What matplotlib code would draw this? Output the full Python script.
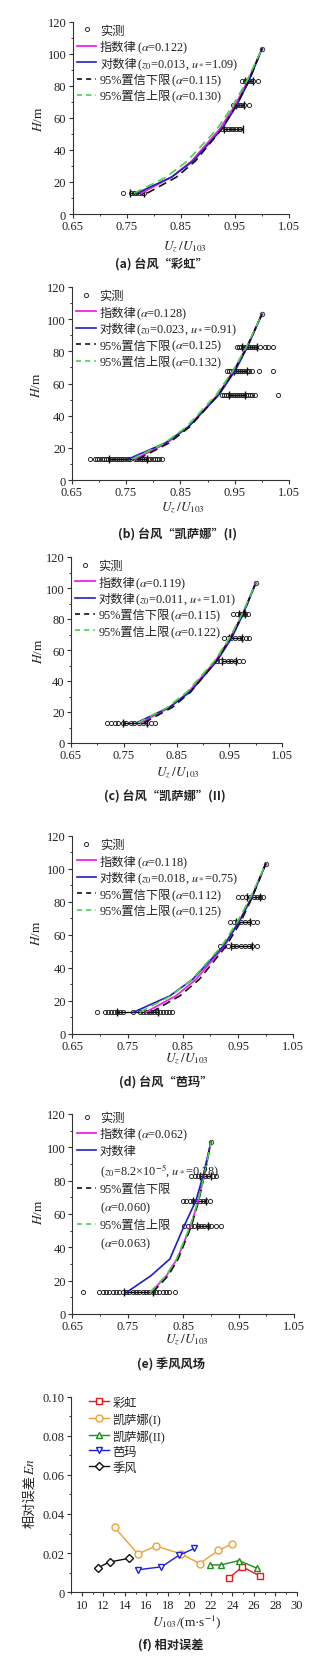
import numpy as np
import matplotlib
matplotlib.use("Agg")
import matplotlib.pyplot as plt
from matplotlib.lines import Line2D
from matplotlib.ticker import MultipleLocator, FuncFormatter

plt.rcParams['font.family'] = ['Liberation Serif', 'Noto Sans CJK SC']
plt.rcParams['mathtext.fontset'] = 'stix'
plt.rcParams['axes.unicode_minus'] = False
plt.rcParams['text.color'] = '#222222'

# ── data ──────────────────────────────────────────────────────────────────────
fit_h = [13, 23, 33, 53, 68, 83, 103]        # heights of fitted profiles (m)
obs_h = [13, 53, 68, 83]                     # measured levels (m)
top_h = 103
u_ticks = [0.65, 0.75, 0.85, 0.95, 1.05]

# (a) typhoon Rainbow
a_pow = [0.777, 0.833, 0.870, 0.922, 0.951, 0.974, 1.0]
a_log = [0.769, 0.833, 0.873, 0.926, 0.954, 0.976, 1.0]
a_low = [0.788, 0.842, 0.877, 0.926, 0.953, 0.976, 1.0]
a_up = [0.764, 0.823, 0.862, 0.917, 0.947, 0.972, 1.0]
a_obs = [[0.744, 0.758, 0.763, 0.768, 0.773, 0.778, 0.782],
         [0.926, 0.932, 0.937, 0.942, 0.947, 0.952, 0.957, 0.960],
         [0.947, 0.952, 0.957, 0.962, 0.967, 0.977],
         [0.964, 0.969, 0.974, 0.979, 0.984, 0.993]]
a_bar_lo = [0.756, 0.929, 0.952, 0.969]
a_bar_hi = [0.782, 0.965, 0.967, 0.984]
a_top = 1.0

# (b) typhoon Kaisana (I)
b_pow = [0.767, 0.825, 0.864, 0.919, 0.948, 0.973, 1.0]
b_log = [0.754, 0.822, 0.865, 0.921, 0.951, 0.974, 1.0]
b_low = [0.772, 0.829, 0.867, 0.920, 0.949, 0.973, 1.0]
b_up = [0.761, 0.821, 0.861, 0.916, 0.947, 0.972, 1.0]
b_obs = [[0.684, 0.693, 0.697, 0.701, 0.705, 0.709, 0.713, 0.717, 0.721, 0.725,
          0.729, 0.733, 0.737, 0.741, 0.745, 0.749, 0.753, 0.757, 0.767, 0.771,
          0.775, 0.779, 0.783, 0.787, 0.791, 0.795, 0.799, 0.803, 0.807, 0.811, 0.816],
         [0.926, 0.930, 0.934, 0.938, 0.942, 0.946, 0.950, 0.954, 0.958, 0.962,
          0.966, 0.970, 0.974, 0.978, 0.982, 0.988, 1.029],
         [0.936, 0.940, 0.944, 0.948, 0.952, 0.956, 0.960, 0.964, 0.968, 0.972,
          0.976, 0.982, 0.994, 1.021],
         [0.954, 0.958, 0.962, 0.966, 0.970, 0.974, 0.978, 0.982, 0.986, 0.990,
          0.997, 1.006, 1.012, 1.021]]
b_bar_lo = [0.719, 0.940, 0.948, 0.963]
b_bar_hi = [0.789, 0.969, 0.972, 0.991]
b_top = 1.0

# (c) typhoon Kaisana (II)
c_pow = [0.782, 0.837, 0.873, 0.924, 0.952, 0.975, 1.0]
c_log = [0.774, 0.836, 0.876, 0.927, 0.955, 0.976, 1.0]
c_low = [0.788, 0.842, 0.877, 0.926, 0.953, 0.976, 1.0]
c_up = [0.777, 0.833, 0.870, 0.922, 0.951, 0.974, 1.0]
c_obs = [[0.718, 0.725, 0.733, 0.740, 0.748, 0.755, 0.763, 0.770, 0.778, 0.786,
          0.794, 0.801, 0.809],
         [0.926, 0.933, 0.940, 0.947, 0.954, 0.961, 0.968, 0.977],
         [0.940, 0.947, 0.954, 0.961, 0.968, 0.975, 0.982, 0.988],
         [0.958, 0.964, 0.970, 0.975, 0.980, 0.986]]
c_bar_lo = [0.749, 0.937, 0.950, 0.969]
c_bar_hi = [0.794, 0.963, 0.975, 0.980]
c_top = 1.0

# (d) typhoon Parma
d_pow = [0.783, 0.838, 0.874, 0.925, 0.952, 0.975, 1.0]
d_log = [0.761, 0.827, 0.868, 0.923, 0.952, 0.975, 1.0]
d_low = [0.793, 0.845, 0.880, 0.928, 0.955, 0.976, 1.0]
d_up = [0.772, 0.829, 0.867, 0.920, 0.949, 0.973, 1.0]
d_obs = [[0.694, 0.709, 0.714, 0.720, 0.725, 0.731, 0.736, 0.742, 0.760, 0.773,
          0.778, 0.783, 0.788, 0.793, 0.798, 0.804, 0.809, 0.814, 0.819, 0.825, 0.830],
         [0.917, 0.925, 0.932, 0.940, 0.947, 0.955, 0.962, 0.969, 0.976, 0.984],
         [0.935, 0.942, 0.949, 0.956, 0.963, 0.970, 0.977, 0.984],
         [0.950, 0.957, 0.964, 0.971, 0.978, 0.985, 0.990, 0.996]]
d_bar_lo = [0.730, 0.938, 0.947, 0.966]
d_bar_hi = [0.806, 0.975, 0.972, 0.990]
d_top = 1.0

# (e) monsoon
e_pow = [0.792, 0.820, 0.839, 0.864, 0.877, 0.888, 0.90]
e_log = [0.748, 0.792, 0.826, 0.852, 0.873, 0.886, 0.90]
e_low = [0.795, 0.823, 0.841, 0.865, 0.878, 0.888, 0.90]
e_up = [0.790, 0.819, 0.838, 0.863, 0.877, 0.888, 0.90]
e_obs = [[0.669, 0.699, 0.705, 0.711, 0.717, 0.723, 0.729, 0.735, 0.741, 0.747,
          0.753, 0.759, 0.765, 0.771, 0.777, 0.783, 0.789, 0.795, 0.801, 0.807,
          0.813, 0.819, 0.825, 0.835],
         [0.852, 0.858, 0.864, 0.870, 0.876, 0.882, 0.888, 0.894, 0.900, 0.909, 0.918],
         [0.850, 0.856, 0.862, 0.868, 0.874, 0.880, 0.886, 0.892, 0.898],
         [0.865, 0.871, 0.877, 0.883, 0.889, 0.895, 0.903, 0.910]]
e_bar_lo = [0.743, 0.875, 0.868, 0.880]
e_bar_hi = [0.795, 0.895, 0.892, 0.901]
e_top = 0.90

# (f) relative error
rain_u = [23.66, 24.93, 26.6]
rain_en = [0.0072, 0.0130, 0.0082]
k1_u = [13.05, 15.2, 16.9, 19.2, 20.95, 22.7, 23.95]
k1_en = [0.0332, 0.0196, 0.0236, 0.0197, 0.0147, 0.0214, 0.0247]
k2_u = [21.9, 22.95, 24.6, 26.25]
k2_en = [0.0140, 0.0140, 0.0162, 0.0124]
pa_u = [15.2, 17.4, 19.0, 20.45]
pa_en = [0.0115, 0.0130, 0.0188, 0.0224]
mon_u = [11.5, 12.6, 14.35]
mon_en = [0.0126, 0.0155, 0.0173]

# ── layout helpers (pixel coords, origin top-left) ────────────────────────────
W, H = 328, 1665
C_POW = '#f020f0'
C_LOG = '#2020c0'
C_LOW = '#111111'
C_UP = '#44d444'
SPINE = '#333333'
LEG_FS = 8.8

pending = []   # (legend text, math suffix) placed once the layout is known


def rect(x0, x1, y0, y1):
    return [x0 / W, 1 - y1 / H, (x1 - x0) / W, (y1 - y0) / H]


def ftext(x, y, s, **kw):
    return fig.text(x / W, 1 - y / H, s, ha='center', va='center', **kw)


def style_axes(ax):
    for side in ('top', 'right'):
        ax.spines[side].set_visible(False)
    for side in ('left', 'bottom'):
        ax.spines[side].set_color(SPINE)
        ax.spines[side].set_linewidth(0.8)
    ax.tick_params(which='major', direction='out', length=3, width=0.8,
                   labelsize=9, pad=1.5, color=SPINE, labelcolor='#222222')
    ax.tick_params(which='minor', direction='out', length=1.6, width=0.7, color=SPINE)


def profile_panel(box, obs, bar_lo, bar_hi, top, pw, lg, lo, up, names, suffixes,
                  split=False, leg_top=0.983):
    ax = fig.add_axes(rect(*box))
    style_axes(ax)
    for h, xs in zip(obs_h, obs):
        ax.plot(xs, np.full(len(xs), h), 'o', ms=3, mfc='none', mec='#222222',
                mew=0.65, zorder=2)
    lo_arr = np.array(bar_lo)
    hi_arr = np.array(bar_hi)
    ax.errorbar((lo_arr + hi_arr) / 2, obs_h, xerr=(hi_arr - lo_arr) / 2, fmt='none',
                ecolor='#111111', elinewidth=1.0, capsize=2.6, capthick=1.0, zorder=2.5)
    ax.plot(top, top_h, 'o', ms=3.2, mfc='#b8d8b0', mec='#444444', mew=0.7, zorder=2)

    ax.plot(pw, fit_h, color=C_POW, lw=1.3, zorder=3)
    ax.plot(lg, fit_h, color=C_LOG, lw=1.2, zorder=3.1)
    ax.plot(lo, fit_h, color=C_LOW, lw=1.2, ls=(0, (5, 3)), zorder=3.2)
    ax.plot(up, fit_h, color=C_UP, lw=1.2, ls=(0, (5, 3)), zorder=3.3)

    ax.set_xlim(0.65, 1.05)
    ax.set_ylim(0, 120)
    ax.set_xticks(u_ticks)
    ax.xaxis.set_minor_locator(MultipleLocator(0.05))
    ax.xaxis.set_major_formatter(FuncFormatter(lambda v, p: f'{v:.2f}'))
    ax.yaxis.set_major_locator(MultipleLocator(20))
    ax.yaxis.set_minor_locator(MultipleLocator(10))

    h_obs = Line2D([], [], ls='none', marker='o', ms=3, mfc='none', mec='#222222', mew=0.65)
    h_pow = Line2D([], [], color=C_POW, lw=1.3)
    h_log = Line2D([], [], color=C_LOG, lw=1.2)
    h_low = Line2D([], [], color=C_LOW, lw=1.2, ls=(0, (3, 2.5)))
    h_up = Line2D([], [], color=C_UP, lw=1.2, ls=(0, (3, 2.5)))
    blank = Line2D([], [], ls='none')
    if split:
        handles = [h_obs, h_pow, h_log, blank, h_low, blank, h_up, blank]
    else:
        handles = [h_obs, h_pow, h_log, h_low, h_up]
    leg = ax.legend(handles, names, loc='upper left', bbox_to_anchor=(0.02, leg_top),
                    frameon=False, fontsize=LEG_FS, handlelength=1.6, handletextpad=0.3,
                    labelspacing=0.36, borderpad=0, borderaxespad=0)
    for t, suf in zip(leg.get_texts(), suffixes):
        if suf:
            pending.append((t, suf))
    return ax


fig = plt.figure(figsize=(W / 100, H / 100), dpi=100)

xlab = r'$U_z\,/U_{103}$'
ylab = r'$H$/m'
cap_kw = dict(fontsize=8.8, family=['Noto Sans CJK SC'], fontweight='bold')
names4 = ['实测', '指数律', '对数律', '95%置信下限', '95%置信上限']

# ── (a) ───────────────────────────────────────────────────────────────────────
profile_panel((72.5, 289, 22.5, 215), a_obs, a_bar_lo, a_bar_hi, a_top,
              a_pow, a_log, a_low, a_up, names4,
              ['', r'($\alpha$=0.122)', r'($z_0$=0.013, $u_*$=1.09)',
               r'($\alpha$=0.115)', r'($\alpha$=0.130)'])
ftext(185, 247, xlab, fontsize=9.5)
ftext(38, 119, ylab, fontsize=9.5, rotation=90)
ftext(161, 265, '(a) 台风“彩虹”', **cap_kw)

# ── (b) ───────────────────────────────────────────────────────────────────────
profile_panel((71.7, 289, 288, 481), b_obs, b_bar_lo, b_bar_hi, b_top,
              b_pow, b_log, b_low, b_up, names4,
              ['', r'($\alpha$=0.128)', r'($z_0$=0.023, $u_*$=0.91)',
               r'($\alpha$=0.125)', r'($\alpha$=0.132)'])
ftext(183, 508, xlab, fontsize=9.5)
ftext(37, 385, ylab, fontsize=9.5, rotation=90)
ftext(178, 535, '(b) 台风“凯萨娜”(I)', **cap_kw)

# ── (c) ───────────────────────────────────────────────────────────────────────
profile_panel((71, 282, 558, 744), c_obs, c_bar_lo, c_bar_hi, c_top,
              c_pow, c_log, c_low, c_up, names4,
              ['', r'($\alpha$=0.119)', r'($z_0$=0.011, $u_*$=1.01)',
               r'($\alpha$=0.115)', r'($\alpha$=0.122)'])
ftext(178, 773, xlab, fontsize=9.5)
ftext(38, 651, ylab, fontsize=9.5, rotation=90)
ftext(165, 797, '(c) 台风“凯萨娜”(II)', **cap_kw)

# ── (d) ───────────────────────────────────────────────────────────────────────
profile_panel((72.3, 293.3, 837, 1034.6), d_obs, d_bar_lo, d_bar_hi, d_top,
              d_pow, d_log, d_low, d_up, names4,
              ['', r'($\alpha$=0.118)', r'($z_0$=0.018, $u_*$=0.75)',
               r'($\alpha$=0.112)', r'($\alpha$=0.125)'])
ftext(187, 1059, xlab, fontsize=9.5)
ftext(37, 933, ylab, fontsize=9.5, rotation=90)
ftext(166, 1083, '(d) 台风“芭玛”', **cap_kw)

# ── (e) ───────────────────────────────────────────────────────────────────────
profile_panel((72.3, 294, 1115, 1315), e_obs, e_bar_lo, e_bar_hi, e_top,
              e_pow, e_log, e_low, e_up,
              ['实测', '指数律', '对数律', r'($z_0$=8.2×10$^{-5}$, $u_*$=0.28)',
               '95%置信下限', r'($\alpha$=0.060)', '95%置信上限', r'($\alpha$=0.063)'],
              ['', r'($\alpha$=0.062)', '', '', '', '', '', ''], split=True, leg_top=1.01)
ftext(187, 1340, xlab, fontsize=9.5)
ftext(38, 1212, ylab, fontsize=9.5, rotation=90)
ftext(171, 1365, '(e) 季风风场', **cap_kw)

# ── (f) relative error ────────────────────────────────────────────────────────
axf = fig.add_axes(rect(71, 297, 1397.5, 1593.3))
style_axes(axf)
mk = dict(ms=5, mfc='white', mew=1.0, lw=1.0)
axf.plot(rain_u, rain_en, '-s', color='#e41a1c', label='彩虹', **mk)
axf.plot(k1_u, k1_en, '-o', color='#f0a030', label='凯萨娜(I)', **mk)
axf.plot(k2_u, k2_en, '-^', color='#1e8c1e', label='凯萨娜(II)', **mk)
axf.plot(pa_u, pa_en, '-v', color='#2020d8', label='芭玛', **mk)
axf.plot(mon_u, mon_en, '-D', color='#111111', label='季风', ms=4.5, mfc='white', mew=1.0, lw=1.0)
axf.set_xlim(9, 30)
axf.set_ylim(0, 0.10)
axf.xaxis.set_major_locator(MultipleLocator(2))
axf.xaxis.set_minor_locator(MultipleLocator(1))
axf.yaxis.set_major_locator(MultipleLocator(0.02))
axf.yaxis.set_minor_locator(MultipleLocator(0.01))
axf.yaxis.set_major_formatter(FuncFormatter(lambda v, p: '0' if abs(v) < 1e-9 else f'{v:.2f}'))
axf.legend(loc='upper left', bbox_to_anchor=(0.08, 1.0), frameon=False, fontsize=LEG_FS,
           handlelength=1.6, handletextpad=0.3, labelspacing=0.32, borderpad=0,
           borderaxespad=0)
ftext(187, 1622, r'$U_{103}$/(m·s$^{-1}$)', fontsize=9.5)
yl = ftext(30, 1502, '相对误差', fontsize=9.5, rotation=90)
ftext(171, 1645, '(f) 相对误差', **cap_kw)

# ── attach the math parts once the text layout is fixed ───────────────────────
fig.canvas.draw()
for t, suf in pending:
    bb = t.get_window_extent()
    fig.text(bb.x1 / fig.bbox.width, (bb.y0 + bb.y1) / 2 / fig.bbox.height - 0.3 / H,
             suf, ha='left', va='center', fontsize=LEG_FS)
bb = yl.get_window_extent()
fig.text((bb.x0 + bb.x1) / 2 / fig.bbox.width, bb.y1 / fig.bbox.height, r'$En$',
         ha='center', va='bottom', rotation=90, fontsize=9.5)

fig.savefig('out.png', dpi=100)
